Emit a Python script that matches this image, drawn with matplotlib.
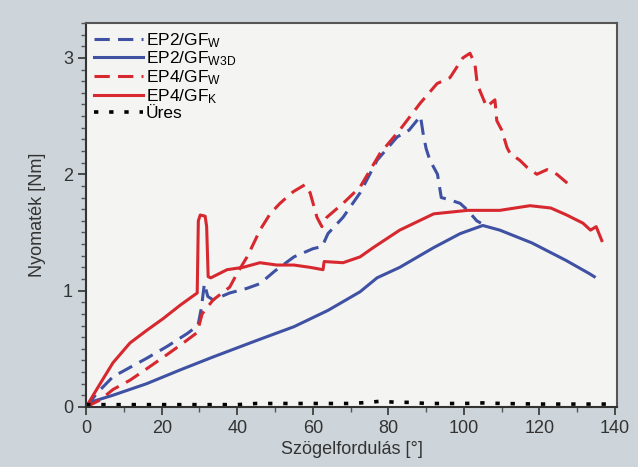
import numpy as np
import matplotlib
matplotlib.use("Agg")
import matplotlib.pyplot as plt
from matplotlib.ticker import MultipleLocator

plt.rcParams['font.family'] = ['Liberation Sans', 'DejaVu Sans']
plt.rcParams['mathtext.fontset'] = 'custom'
plt.rcParams['mathtext.rm'] = 'Liberation Sans'
plt.rcParams['mathtext.it'] = 'Liberation Sans'

# EP2/GF_W (blue dashed)
x_ep2_w = [0, 2.9, 7.1, 11.6, 16.1, 21.4, 26.7, 29.6, 30.5, 31.3, 32.2, 33.6, 38, 42.6, 46, 50,
           55, 60, 62.5, 64, 68, 72.5, 77, 82.3, 85.5, 87.5, 88.5, 89.2, 90, 91, 93, 94, 96.3,
           99, 101, 103.4, 104.5]
y_ep2_w = [0, 0.12, 0.26, 0.34, 0.42, 0.52, 0.63, 0.70, 0.85, 1.06, 0.95, 0.92, 0.98, 1.02, 1.06, 1.17,
           1.29, 1.36, 1.38, 1.49, 1.63, 1.84, 2.12, 2.32, 2.38, 2.46, 2.50, 2.35, 2.22, 2.12, 2.0, 1.80, 1.78,
           1.75, 1.69, 1.60, 1.58]

# EP2/GF_W3D (blue solid)
x_ep2_w3d = [0, 1, 7, 16, 25, 33.6, 45, 55, 64, 72.5, 77, 83, 92, 99, 105, 109.5, 118, 127, 133, 134.5]
y_ep2_w3d = [0, 0.04, 0.1, 0.2, 0.32, 0.43, 0.57, 0.69, 0.83, 0.99, 1.11, 1.2, 1.37, 1.49, 1.56, 1.52,
             1.41, 1.26, 1.15, 1.12]

# EP4/GF_W (red dashed)
x_ep4_w = [0, 3.7, 7.1, 11.6, 16.1, 21.4, 25.7, 29.4, 30.7, 33.6, 38, 40, 42.6, 44.7, 46, 48.7, 51.3,
           54.8, 57.9, 59.3, 61.1, 62.4, 63.7, 68, 72.5, 77.8, 83, 88.4, 92.9, 96.3, 98.1, 99.7, 101.6,
           102.9, 103.4, 104.2, 106, 108.2, 108.7, 110, 111.4, 112.2, 114.8, 116.7, 119.3, 122, 124.6, 127.5]
y_ep4_w = [0, 0.06, 0.15, 0.23, 0.33, 0.45, 0.55, 0.64, 0.80, 0.92, 1.03, 1.15, 1.29, 1.43, 1.52, 1.66, 1.75,
           1.85, 1.91, 1.84, 1.63, 1.55, 1.63, 1.75, 1.89, 2.18, 2.38, 2.61, 2.78, 2.83, 2.92, 3.0, 3.04,
           2.95, 2.81, 2.72, 2.58, 2.64, 2.46, 2.38, 2.23, 2.18, 2.12, 2.06, 2.0, 2.04, 2.0, 1.92]

# EP4/GF_K (red solid)
x_ep4_k = [0, 3.7, 7.1, 11.6, 16.1, 20.4, 24.9, 29.4, 29.7, 30.2, 31.5, 31.9, 32.3, 33, 37.3, 41.5, 46,
           50.5, 55, 59.3, 62.7, 63, 68, 72.5, 76, 83, 92, 101, 109.5, 117.5, 123, 127.2, 131.5, 133.5,
           135, 136.5]
y_ep4_k = [0, 0.2, 0.38, 0.55, 0.66, 0.76, 0.875, 0.98, 1.6, 1.65, 1.64, 1.55, 1.12, 1.11, 1.18, 1.2, 1.24,
           1.22, 1.22, 1.2, 1.18, 1.25, 1.24, 1.29, 1.37, 1.52, 1.66, 1.69, 1.69, 1.73, 1.71, 1.65, 1.58, 1.52,
           1.55, 1.43]

# Üres (black dotted)
x_ures = [0, 10, 20, 30, 40, 45, 50, 60, 70, 75, 78, 82, 86, 90, 100, 105, 110, 120, 130, 140]
y_ures = [0.02, 0.02, 0.02, 0.02, 0.02, 0.03, 0.03, 0.03, 0.03, 0.04, 0.05, 0.04, 0.04, 0.03, 0.03,
          0.035, 0.03, 0.025, 0.025, 0.025]

blue = '#3f51a3'
red = '#d7282f'

fig = plt.figure(figsize=(6.38, 4.67), dpi=100, facecolor='#cdd5da')
ax = fig.add_axes([0.135, 0.1285, 0.832, 0.8222])
ax.set_facecolor('#f4f4f2')

ax.plot(x_ep2_w, y_ep2_w, color=blue, lw=2.2, dashes=(5, 2.7), label=r'EP2/GF$_{\mathrm{W}}$')
ax.plot(x_ep2_w3d, y_ep2_w3d, color=blue, lw=2.2, label=r'EP2/GF$_{\mathrm{W3D}}$')
ax.plot(x_ep4_w, y_ep4_w, color=red, lw=2.2, dashes=(5, 2.7), label=r'EP4/GF$_{\mathrm{W}}$')
ax.plot(x_ep4_k, y_ep4_k, color=red, lw=2.2, label=r'EP4/GF$_{\mathrm{K}}$')
ax.plot(x_ures, y_ures, color='black', lw=2.6, dashes=(1.2, 3), label='Üres')

ax.set_xlim(0, 140.5)
ax.set_ylim(0, 3.3)
ax.xaxis.set_major_locator(MultipleLocator(20))
ax.xaxis.set_minor_locator(MultipleLocator(10))
ax.yaxis.set_major_locator(MultipleLocator(1))
ax.yaxis.set_minor_locator(MultipleLocator(0.1))
ax.tick_params(which='major', length=6, width=1.2, labelsize=13, color='#333333', labelcolor='#333333')
ax.tick_params(which='minor', length=3.5, width=1, color='#555555')

for s in ['left', 'bottom']:
    ax.spines[s].set_color('#333333')
    ax.spines[s].set_linewidth(1.5)
for s in ['top', 'right']:
    ax.spines[s].set_color('#555555')
    ax.spines[s].set_linewidth(1.5)

ax.set_xlabel('Szögelfordulás [°]', fontsize=13, color='#333333', labelpad=3)
ax.set_ylabel('Nyomaték [Nm]', fontsize=13, color='#333333', labelpad=12)

ax.legend(loc='upper left', frameon=False, fontsize=12.5, handlelength=2.8, handletextpad=0.2,
          labelspacing=0.0, borderaxespad=0.1, borderpad=0.35)

fig.savefig('out.png', dpi=100, facecolor=fig.get_facecolor())
